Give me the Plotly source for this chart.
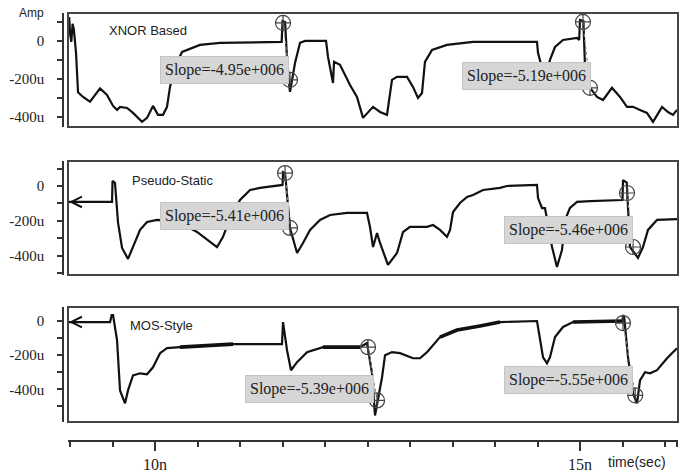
import plotly.graph_objects as go

# ---------------- data (time in ns, current in uA) ----------------
xnor_pts = [(8.99, 125), (9.0, 40), (9.015, -5), (9.03, 90), (9.045, 60), (9.07, -60), (9.094, -270),
            (9.153, -295), (9.235, -320), (9.353, -250), (9.435, -284), (9.506, -342), (9.553, -363),
            (9.588, -347), (9.671, -353), (9.741, -379), (9.847, -426), (9.906, -405), (9.976, -342),
            (10.035, -389), (10.094, -389), (10.141, -347), (10.176, -242), (10.24, -130), (10.318, -58),
            (10.529, -21), (10.765, -10), (11.118, -8), (11.353, -5), (11.49, -5), (11.5, 105), (11.53, 100),
            (11.56, -150), (11.588, -268), (11.647, -116), (11.706, -10), (11.765, 0), (12.012, 0),
            (12.035, -84), (12.082, -189), (12.094, -221), (12.106, -110), (12.176, -126), (12.294, -232),
            (12.376, -295), (12.447, -405), (12.565, -347), (12.647, -374), (12.729, -389), (12.788, -205),
            (12.847, -189), (12.965, -189), (13.035, -242), (13.094, -300), (13.141, -274), (13.176, -110),
            (13.259, -47), (13.435, -21), (13.741, -5), (14.059, -5), (14.494, -5), (14.506, -63),
            (14.529, -100), (14.58, -190), (14.62, -150), (14.647, -100), (14.706, -32), (14.8, 5),
            (14.965, 16), (14.99, 5), (15.0, 110), (15.04, 105), (15.06, -150), (15.118, -247), (15.2, -295),
            (15.271, -311), (15.376, -247), (15.471, -295), (15.553, -347), (15.624, -347), (15.706, -363),
            (15.788, -379), (15.859, -426), (15.965, -347), (16.035, -374), (16.094, -389), (16.141, -363)]

pseudo_pts = [(8.988, -91), (9.494, -91), (9.5, 29), (9.529, 17), (9.565, -211), (9.612, -354), (9.682, -417),
              (9.741, -349), (9.824, -251), (9.906, -206), (10.024, -194), (10.2, -200), (10.35, -225),
              (10.494, -263), (10.612, -309), (10.729, -350), (10.8, -291), (10.882, -183), (11.0, -80),
              (11.118, -23), (11.235, -11), (11.388, 0), (11.5, 6), (11.506, 80), (11.53, 75), (11.588, -240),
              (11.671, -383), (11.741, -326), (11.824, -251), (11.941, -194), (12.059, -166), (12.259, -154),
              (12.494, -154), (12.529, -234), (12.565, -349), (12.612, -269), (12.647, -326), (12.741, -451),
              (12.847, -383), (12.918, -263), (13.0, -234), (13.2, -234), (13.271, -223), (13.353, -251),
              (13.435, -291), (13.471, -251), (13.506, -149), (13.588, -97), (13.671, -63), (13.741, -51),
              (13.859, -23), (14.059, -11), (14.141, 0), (14.494, 6), (14.506, -69), (14.553, -126),
              (14.588, -126), (14.671, -349), (14.729, -463), (14.788, -366), (14.824, -194), (14.882, -126),
              (14.965, -91), (15.118, -86), (15.5, -80), (15.506, 34), (15.55, 20), (15.588, -349),
              (15.682, -411), (15.741, -349), (15.8, -251), (15.906, -194), (16.059, -189), (16.141, -189)]

mos_pts = [(8.988, -6), (9.471, -6), (9.49, 35), (9.506, 35), (9.553, -112), (9.588, -406), (9.647, -482),
           (9.682, -406), (9.741, -318), (9.824, -306), (9.906, -312), (9.976, -271), (10.059, -188),
           (10.141, -159), (10.294, -153), (10.529, -147), (10.918, -135), (11.494, -135), (11.506, -6),
           (11.553, -171), (11.6, -288), (11.671, -241), (11.788, -182), (11.976, -153), (12.176, -153),
           (12.412, -153), (12.494, -129), (12.553, -306), (12.588, -553), (12.624, -465), (12.671, -329),
           (12.706, -200), (12.788, -182), (12.882, -188), (13.035, -218), (13.118, -218), (13.2, -182),
           (13.353, -94), (13.553, -53), (13.824, -29), (14.059, -6), (14.494, 0), (14.529, -94),
           (14.565, -212), (14.612, -247), (14.647, -212), (14.706, -94), (14.8, -35), (14.918, -6),
           (15.5, 0), (15.506, 35), (15.52, 20), (15.565, -212), (15.624, -424), (15.671, -482),
           (15.706, -347), (15.765, -300), (15.824, -306), (15.906, -288), (16.024, -218), (16.141, -159)]

# noisy (thick) stretches of the MOS-Style trace, ns
mos_noisy = [(10.2, 11.49), (11.8, 12.49), (13.3, 14.1), (14.9, 15.5)]

# measurement cursors (top, bottom) per panel
xnor_cursors = [[(11.506, 95), (11.588, -205)], [(15.035, 100), (15.118, -247)]]
pseudo_cursors = [[(11.53, 74), (11.588, -240)], [(15.553, -40), (15.624, -349)]]
mos_cursors = [[(12.506, -153), (12.612, -465)], [(15.506, -12), (15.65, -435)]]

xnor_slopes = ["Slope=-4.95e+006", "Slope=-5.19e+006"]
pseudo_slopes = ["Slope=-5.41e+006", "Slope=-5.46e+006"]
mos_slopes = ["Slope=-5.39e+006", "Slope=-5.55e+006"]

panel_titles = ["XNOR Based", "Pseudo-Static", "MOS-Style"]

x_major = [10, 15]
x_major_text = ["10n", "15n"]
x_minor = [9.0, 9.5, 10.5, 11.0, 11.5, 12.0, 12.5, 13.0, 13.5, 14.0, 14.5, 15.5, 16.0, 16.14]
y_major = [-400, -200, 0]
y_major_text = ["-400u", "-200u", "0"]
y_minor = [-500, -300, -100, 100]

# ---------------- layout geometry ----------------
W, H = 689, 476
def px(x): return x / W
def py(y): return 1 - y / H

x_range = [8.976, 16.153]
y_ranges = [[-453, 147], [-509, 143], [-591, 82]]
y_domains = [[py(127), py(13)], [py(275), py(161)], [py(422), py(307)]]
x_domain = [px(68), px(678)]
yaxis_pos = px(63)

# slope-box centers (data coords)
box_pos = [[(10.818, -153), (14.365, -184)],
           [(10.818, -171), (14.865, -254)],
           [(11.818, -395), (14.859, -348)]]
title_pos = [(107, 30), (130, 180), (128, 325)]

fig = go.Figure()
series = [xnor_pts, pseudo_pts, mos_pts]
cursors = [xnor_cursors, pseudo_cursors, mos_cursors]
slopes = [xnor_slopes, pseudo_slopes, mos_slopes]

for k in range(3):
    xa = "x" if k == 0 else f"x{k+1}"
    ya = "y" if k == 0 else f"y{k+1}"
    t, a = zip(*series[k])
    fig.add_trace(go.Scatter(x=t, y=a, mode="lines", xaxis=xa, yaxis=ya,
                             line=dict(color="#111", width=2.2), showlegend=False, hoverinfo="skip"))
    if k == 2:
        tx, ty = [], []
        for (s, e) in mos_noisy:
            for (ti, ai) in series[k]:
                if s <= ti <= e:
                    tx.append(ti); ty.append(ai)
            tx.append(None); ty.append(None)
        fig.add_trace(go.Scatter(x=tx, y=ty, mode="lines", xaxis=xa, yaxis=ya,
                                 line=dict(color="#111", width=3.6), showlegend=False, hoverinfo="skip"))
    if k > 0:
        fig.add_annotation(x=t[0], y=a[0], xref=xa, yref=ya, text="", showarrow=True,
                           ax=14, ay=0, arrowhead=5, arrowsize=1.3, arrowwidth=1.6, arrowcolor="#111",
                           standoff=0)
    for cur in cursors[k]:
        ct, ca = zip(*cur)
        fig.add_trace(go.Scatter(x=ct, y=ca, mode="lines", xaxis=xa, yaxis=ya,
                                 line=dict(color="#888", width=1.2, dash="dot"),
                                 showlegend=False, hoverinfo="skip"))
        fig.add_trace(go.Scatter(x=ct, y=ca, mode="markers", xaxis=xa, yaxis=ya, cliponaxis=False,
                                 marker=dict(symbol="circle-cross-open", size=15, color="#444",
                                             line=dict(width=1.2, color="#444")),
                                 showlegend=False, hoverinfo="skip"))
    for (bx, by), txt in zip(box_pos[k], slopes[k]):
        fig.add_annotation(x=bx, y=by, xref=xa, yref=ya, text=txt, showarrow=False,
                           xanchor="center", yanchor="middle",
                           font=dict(family="Liberation Serif", size=16, color="#222"),
                           bgcolor="#d6d6d6", bordercolor="#c4c4c4", borderwidth=1, borderpad=4)
    tx0, ty0 = title_pos[k]
    fig.add_annotation(x=px(tx0), y=py(ty0), xref="paper", yref="paper", text=panel_titles[k],
                       showarrow=False, xanchor="left", yanchor="middle",
                       font=dict(family="Liberation Sans", size=13, color="#222"))
    dom = "x domain" if k == 0 else f"x{k+1} domain"
    ydom = "y domain" if k == 0 else f"y{k+1} domain"
    fig.add_shape(type="rect", xref=dom, yref=ydom, x0=0, x1=1, y0=0, y1=1,
                  line=dict(color="#444", width=2))

yaxis_common = dict(anchor="free", position=yaxis_pos, showline=True, linecolor="#333", linewidth=1.5,
                    ticks="outside", ticklen=5, tickwidth=1.5, tickcolor="#333",
                    tickvals=y_major, ticktext=y_major_text, ticklabelstandoff=10,
                    tickfont=dict(family="Liberation Serif", size=15, color="#222"),
                    showgrid=False, zeroline=False,
                    minor=dict(tickvals=y_minor, ticks="outside", ticklen=5, tickwidth=1.5,
                               tickcolor="#333", showgrid=False))

layout = dict(width=W, height=H, margin=dict(l=0, r=0, t=0, b=0),
              paper_bgcolor="white", plot_bgcolor="white", showlegend=False)
for k in range(3):
    xk = "xaxis" if k == 0 else f"xaxis{k+1}"
    yk = "yaxis" if k == 0 else f"yaxis{k+1}"
    ya = "y" if k == 0 else f"y{k+1}"
    layout[yk] = dict(domain=y_domains[k], range=y_ranges[k], **yaxis_common)
    if k < 2:
        layout[xk] = dict(domain=x_domain, range=x_range, visible=False, anchor=ya)
    else:
        layout[xk] = dict(domain=x_domain, range=x_range, anchor="free", position=py(441),
                          showline=True, linecolor="#333", linewidth=1.5,
                          ticks="outside", ticklen=9, tickwidth=1.5, tickcolor="#333",
                          tickvals=x_major, ticktext=x_major_text,
                          tickfont=dict(family="Liberation Serif", size=16, color="#222"),
                          showgrid=False, zeroline=False,
                          minor=dict(tickvals=x_minor, ticks="outside", ticklen=5, tickwidth=1.5,
                                     tickcolor="#333", showgrid=False))
fig.update_layout(**layout)

fig.add_annotation(x=px(17), y=py(13), xref="paper", yref="paper", text="Amp", showarrow=False,
                   xanchor="left", yanchor="middle",
                   font=dict(family="Liberation Sans", size=12, color="#222"))
fig.add_annotation(x=px(606), y=py(462), xref="paper", yref="paper", text="time(sec)", showarrow=False,
                   xanchor="left", yanchor="middle",
                   font=dict(family="Liberation Sans", size=14, color="#222"))

fig.write_html("out.html")
